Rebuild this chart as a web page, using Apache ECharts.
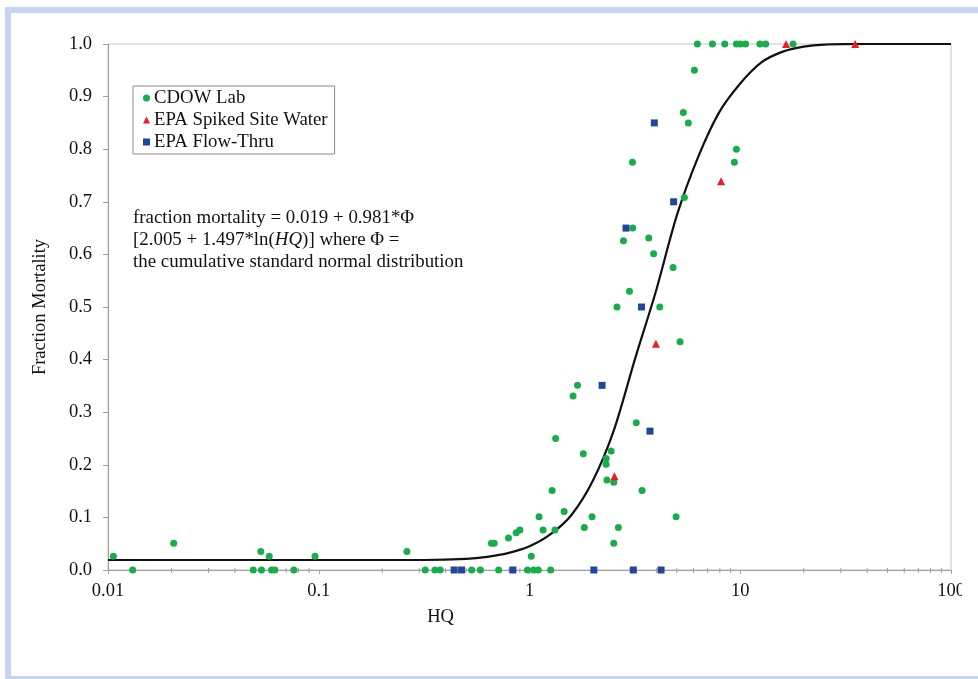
<!DOCTYPE html>
<html>
<head>
<meta charset="utf-8">
<script src="https://cdn.jsdelivr.net/npm/echarts@6/dist/echarts.min.js"></script>
<style>
  html, body { margin: 0; padding: 0; background: #fff; }
  #main { width: 978px; height: 679px; }
</style>
</head>
<body>
<div id="main"></div>
<script>
// CDOW Lab (green circles)
var cdowHQ = [6.26, 7.38, 8.44, 9.59, 10.0, 10.6, 12.4, 13.2, 17.8,
  6.06, 5.37, 5.67, 9.59, 9.38, 3.08, 5.43, 3.09, 2.79, 3.68, 3.88, 4.80, 2.98,
  2.60, 4.15, 5.18, 1.69, 1.61, 3.21, 1.33, 1.80, 2.44, 2.31, 2.31, 2.33, 2.51,
  3.42, 1.28, 1.11, 1.46, 1.98, 4.96, 1.82, 2.64, 1.16, 1.32, 0.90, 0.865, 0.795,
  0.66, 0.68, 1.02, 2.51, 0.0106, 0.0205, 0.0531, 0.0582, 0.096, 0.262,
  0.0131, 0.0489, 0.0535, 0.0597, 0.0619, 0.0762, 0.320, 0.356, 0.377, 0.532,
  0.585, 0.714, 0.978, 1.045, 1.10, 1.26];
var cdowFrac = [1, 1, 1, 1, 1, 1, 1, 1, 1,
  0.95, 0.87, 0.85, 0.80, 0.775, 0.775, 0.708, 0.65, 0.626, 0.631, 0.601, 0.575, 0.53,
  0.50, 0.50, 0.434, 0.351, 0.331, 0.28, 0.25, 0.221, 0.226, 0.212, 0.201, 0.171, 0.167,
  0.151, 0.151, 0.101, 0.111, 0.101, 0.101, 0.081, 0.081, 0.076, 0.076, 0.076, 0.071, 0.061,
  0.051, 0.051, 0.026, 0.051, 0.026, 0.051, 0.035, 0.026, 0.026, 0.035,
  0, 0, 0, 0, 0, 0, 0, 0, 0, 0,
  0, 0, 0, 0, 0, 0];

// EPA Spiked Site Water (red triangles)
var spikedHQ = [16.5, 35.1, 8.11, 3.98, 2.53];
var spikedFrac = [1, 1, 0.739, 0.43, 0.178];

// EPA Flow-Thru (blue squares)
var flowHQ = [3.91, 4.83, 2.87, 3.40, 2.21, 3.73, 0.439, 0.476, 0.834, 2.02, 3.11, 4.21];
var flowFrac = [0.85, 0.70, 0.65, 0.50, 0.351, 0.264, 0, 0, 0, 0, 0, 0];

// fitted curve
var curveHQ = [0.01, 0.1, 0.316, 0.5, 0.63, 0.79, 1, 1.26, 1.585, 2.0, 2.51, 3.16,
  3.98, 5.01, 6.31, 7.94, 10, 12.6, 15.8, 20, 25, 40, 100];
var curveFrac = [0.019, 0.019, 0.019, 0.021, 0.025, 0.032, 0.045, 0.068, 0.105, 0.170,
  0.265, 0.40, 0.53, 0.675, 0.785, 0.87, 0.925, 0.965, 0.985, 0.995, 0.999, 1.0, 1.0];

var xTickLabels = {0.01: '0.01', 0.1: '0.1', 1: '1', 10: '10', 100: '100'};
var decades = [0.01, 0.1, 1, 10];

function zip(xs, ys) {
  return xs.map(function (x, i) { return [x, ys[i]]; });
}

var minorTicks = [];
decades.forEach(function (d) {
  for (var k = 2; k <= 9; k++) minorTicks.push([d * k, 0]);
});

var serif = '"Liberation Serif", "Times New Roman", serif';
var chart = echarts.init(document.getElementById('main'));

chart.setOption({
  backgroundColor: '#fff',
  animation: false,
  textStyle: { fontFamily: serif, color: '#111' },
  grid: { left: 108, right: 27, top: 44, bottom: 109, show: true, borderColor: '#c4c4c4', borderWidth: 1 },
  legend: {
    orient: 'vertical',
    left: 133,
    top: 86,
    padding: [2, 7, 2, 10],
    itemGap: 2,
    itemWidth: 7,
    itemHeight: 7,
    borderColor: '#8a8a8a',
    borderWidth: 1,
    borderRadius: 0,
    textStyle: { fontFamily: serif, fontSize: 18.8, color: '#111', lineHeight: 20, padding: [0, 0, 0, -1] },
    data: [
      { name: 'CDOW Lab', icon: 'circle' },
      { name: 'EPA Spiked Site Water', icon: 'triangle' },
      { name: 'EPA Flow-Thru', icon: 'rect' }
    ]
  },
  xAxis: {
    type: 'log',
    logBase: 10,
    min: 0.01,
    max: 100,
    name: 'HQ',
    nameLocation: 'middle',
    nameGap: 38,
    nameTextStyle: { fontFamily: serif, fontSize: 18.5, color: '#111', padding: [0, 178, 0, 0] },
    axisLine: { lineStyle: { color: '#a0a0a0' } },
    axisTick: { show: true, length: 4, lineStyle: { color: '#a0a0a0' } },
    axisLabel: {
      fontFamily: serif, fontSize: 18.5, color: '#111', margin: 12,
      formatter: function (v) {
        var key = Math.round(Math.log10(v));
        return xTickLabels[Math.pow(10, key)] || '';
      }
    },
    splitLine: { show: false }
  },
  yAxis: {
    type: 'value',
    min: 0,
    max: 1,
    interval: 0.1,
    name: 'Fraction Mortality',
    nameLocation: 'middle',
    nameGap: 58,
    nameTextStyle: { fontFamily: serif, fontSize: 18.5, color: '#111' },
    axisLine: { show: true, lineStyle: { color: '#a0a0a0' } },
    axisTick: { show: true, length: 5, lineStyle: { color: '#a0a0a0' } },
    axisLabel: {
      fontFamily: serif, fontSize: 18.5, color: '#111', margin: 16,
      formatter: function (v) { return v.toFixed(1); }
    },
    splitLine: { show: false }
  },
  series: [
    {
      name: 'minor',
      type: 'custom',
      silent: true,
      clip: false,
      data: minorTicks,
      renderItem: function (params, api) {
        var p = api.coord([api.value(0), api.value(1)]);
        return {
          type: 'line',
          shape: { x1: p[0], y1: p[1] - 2, x2: p[0], y2: p[1] + 3 },
          style: { stroke: '#a0a0a0', lineWidth: 1 }
        };
      }
    },
    {
      name: 'curve',
      type: 'line',
      data: zip(curveHQ, curveFrac),
      smooth: 0.3,
      showSymbol: false,
      lineStyle: { color: '#111', width: 2.2 },
      z: 2
    },
    {
      name: 'CDOW Lab',
      type: 'scatter',
      symbol: 'circle',
      symbolSize: 7,
      itemStyle: { color: '#17ad4b', opacity: 1 },
      data: zip(cdowHQ, cdowFrac),
      z: 3
    },
    {
      name: 'EPA Spiked Site Water',
      type: 'scatter',
      symbol: 'triangle',
      symbolSize: 8,
      itemStyle: { color: '#ec1c24', opacity: 1 },
      data: zip(spikedHQ, spikedFrac),
      z: 4
    },
    {
      name: 'EPA Flow-Thru',
      type: 'scatter',
      symbol: 'rect',
      symbolSize: 7,
      itemStyle: { color: '#22469a', opacity: 1 },
      data: zip(flowHQ, flowFrac),
      z: 5
    }
  ],
  graphic: [
    {
      type: 'text',
      left: 133,
      top: 207,
      style: {
        text: 'fraction mortality = 0.019 + 0.981*Φ\n[2.005 + 1.497*ln({i|HQ})] where Φ =\nthe cumulative standard normal distribution',
        font: '18.9px ' + serif,
        fill: '#111',
        lineHeight: 22,
        rich: {
          i: { fontFamily: serif, fontSize: 18.9, fontStyle: 'italic', fill: '#111', lineHeight: 22 }
        }
      }
    },
    {
      type: 'rect',
      z: 100,
      silent: true,
      shape: { x: 962, y: 576, width: 16, height: 40 },
      style: { fill: '#fff' }
    },
    {
      type: 'rect',
      z: 100,
      silent: true,
      shape: { x: 8, y: 10, width: 1000, height: 669 },
      style: { fill: 'none', stroke: '#c6d5ef', lineWidth: 6 }
    }
  ]
});
</script>
</body>
</html>
